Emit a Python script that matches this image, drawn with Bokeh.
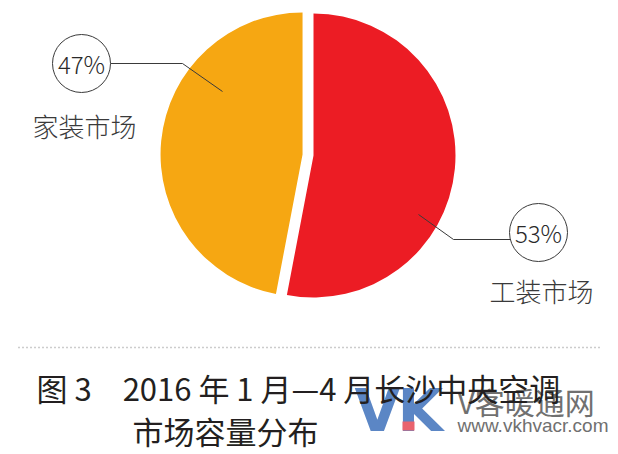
import math
from bokeh.plotting import figure
from bokeh.models import Range1d, Label, ColumnDataSource
from bokeh.embed import file_html
from bokeh.resources import INLINE

# ---- data ----
categories = ["工装市场", "家装市场"]
shares = [53, 47]
share_labels = ["53%", "47%"]
colors = ["#ec1c24", "#f6a712"]

title_line1 = "图 3　2016 年 1 月—4 月长沙中央空调"
title_line2 = "市场容量分布"

# ---- layout (pixel coords; data y = 454 - pixel y) ----
W, H = 618, 454
def Y(py):
    return H - py

p = figure(width=W, height=H, output_backend="svg", toolbar_location=None,
           x_range=Range1d(0, W), y_range=Range1d(0, H),
           x_axis_location=None, y_axis_location=None, min_border=0,
           outline_line_color=None, background_fill_color="white",
           border_fill_color="white")
p.grid.visible = False

# pie
cx, cy, R = 313, Y(155), 142
explode = [0, 11]
total = float(sum(shares))
starts, ends, xs, ys = [], [], [], []
a = math.pi / 2
for s, ex in zip(shares, explode):
    e = a - 2 * math.pi * s / total
    mid = (a + e) / 2
    starts.append(a)
    ends.append(e)
    xs.append(cx + ex * math.cos(mid))
    ys.append(cy + ex * math.sin(mid))
    a = e
src = ColumnDataSource(dict(x=xs, y=ys, start=starts, end=ends, color=colors,
                            cat=categories, share=shares))
p.wedge(x="x", y="y", radius=R, radius_units="screen", start_angle="start",
        end_angle="end", direction="clock", fill_color="color", line_color=None,
        source=src)

# labels layout
circle_pos = [(538, 232), (81, 63)]
name_pos = [(541, 290), (84, 125)]
leaders = [[(418, 214), (453, 239), (510, 239)],
           [(222, 91), (182, 63), (110, 63)]]
lc = "#3a3a3a"
light = "Noto Sans CJK SC Light"
for i in range(len(categories)):
    pts = leaders[i]
    p.line([q[0] for q in pts], [Y(q[1]) for q in pts], line_color=lc, line_width=1)
    ccx, ccy = circle_pos[i]
    p.scatter([ccx], [Y(ccy)], size=58, marker="circle", fill_color="white",
              line_color=lc, line_width=1)
    p.add_layout(Label(x=ccx, y=Y(ccy), text=share_labels[i], text_align="center",
                       text_baseline="middle", text_font=light,
                       text_font_size="24px", text_color="#2a2a2a"))
    nx, ny = name_pos[i]
    p.add_layout(Label(x=nx, y=Y(ny), text=categories[i], text_align="center",
                       text_baseline="middle", text_font=light,
                       text_font_size="26px", text_color=lc))

# dotted separator
p.line([18, 600], [Y(347), Y(347)], line_color="#9a9a9a", line_width=1.5,
       line_dash="1 3")

# watermark
wm_blue = "#5b86c5"
p.add_layout(Label(x=354, y=Y(410), text="V", text_align="left",
                   text_baseline="alphabetic", text_font="DejaVu Sans",
                   text_font_style="bold", text_font_size="59px",
                   text_color=wm_blue))
p.add_layout(Label(x=397, y=Y(410), text="K", text_align="left",
                   text_baseline="alphabetic", text_font="DejaVu Sans",
                   text_font_style="bold", text_font_size="59px",
                   text_color=wm_blue))
pink = p.quad(left=[402], right=[414], bottom=[Y(430)], top=[Y(421)],
              fill_color="#e9636e", line_color=None)
pink.level = "overlay"
p.add_layout(Label(x=457, y=Y(400), text="V客暖通网", text_align="left",
                   text_baseline="middle", text_font="Noto Sans CJK SC",
                   text_font_size="30px", text_color="#707070"))
p.add_layout(Label(x=457, y=Y(425), text="www.vkhvacr.com", text_align="left",
                   text_baseline="middle", text_font="Liberation Sans",
                   text_font_size="19px", text_color="#707070"))

# caption
p.add_layout(Label(x=36, y=Y(387), text=title_line1, text_align="left",
                   text_baseline="middle", text_font="Noto Sans CJK SC",
                   text_font_size="31px", text_color="#231f20"))
p.add_layout(Label(x=132, y=Y(430), text=title_line2, text_align="left",
                   text_baseline="middle", text_font="Noto Sans CJK SC",
                   text_font_size="31px", text_color="#231f20"))

open("out.html", "w").write(file_html(p, INLINE))
